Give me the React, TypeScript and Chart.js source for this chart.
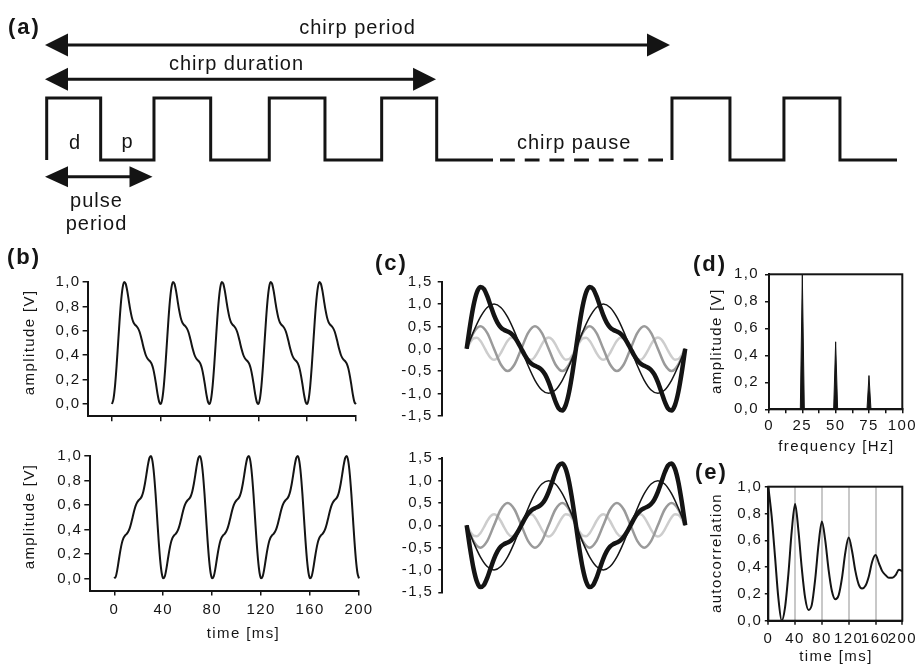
import React, { useEffect, useRef } from 'react';
import { Chart, registerables } from 'chart.js';

Chart.register(...registerables);

// ------------------------------------------------------------------ data
// (a) schematic square-wave chirp, x in pulse half-period units, y: 0 low / 1 high
const aChirpX = [0, 0, 0.969, 0.969, 1.926, 1.926, 2.944, 2.944, 3.996, 3.996, 4.996, 4.996, 6.014, 6.014, 7.002, 7.002, 8.013];
const aChirpY = [0, 1, 1, 0, 0, 1, 1, 0, 0, 1, 1, 0, 0, 1, 1, 0, 0];
const aPauseX = [8.139, 11.065];
const aPauseY = [0, 0];
const aNextX = [11.226, 11.226, 12.267, 12.267, 13.236, 13.236, 14.242, 14.242, 15.266];
const aNextY = [0, 1, 1, 0, 0, 1, 1, 0, 0];
const arrowFrom = [-0.03, -0.03, -0.03];
const arrowTo = [11.19, 6.99, 1.9];
const arrowLevel = [1.855, 1.302, -0.269];

// (b) stimulus waveforms, time in ms
const bTime = [
  0, 1.25, 2.5, 3.75, 5, 6.25, 7.5, 8.75, 10, 11.25, 12.5, 13.75, 15, 16.25, 17.5, 18.75, 20, 21.25, 22.5, 23.75, 25, 26.25, 27.5, 28.75, 30, 31.25, 32.5, 33.75, 35, 36.25, 37.5, 38.75, 40,
  41.25, 42.5, 43.75, 45, 46.25, 47.5, 48.75, 50, 51.25, 52.5, 53.75, 55, 56.25, 57.5, 58.75, 60, 61.25, 62.5, 63.75, 65, 66.25, 67.5, 68.75, 70, 71.25, 72.5, 73.75, 75, 76.25, 77.5, 78.75, 80,
  81.25, 82.5, 83.75, 85, 86.25, 87.5, 88.75, 90, 91.25, 92.5, 93.75, 95, 96.25, 97.5, 98.75, 100, 101.25, 102.5, 103.75, 105, 106.25, 107.5, 108.75, 110, 111.25, 112.5, 113.75, 115, 116.25, 117.5, 118.75, 120,
  121.25, 122.5, 123.75, 125, 126.25, 127.5, 128.75, 130, 131.25, 132.5, 133.75, 135, 136.25, 137.5, 138.75, 140, 141.25, 142.5, 143.75, 145, 146.25, 147.5, 148.75, 150, 151.25, 152.5, 153.75, 155, 156.25, 157.5, 158.75, 160,
  161.25, 162.5, 163.75, 165, 166.25, 167.5, 168.75, 170, 171.25, 172.5, 173.75, 175, 176.25, 177.5, 178.75, 180, 181.25, 182.5, 183.75, 185, 186.25, 187.5, 188.75, 190, 191.25, 192.5, 193.75, 195, 196.25, 197.5, 198.75, 200,
];
const bTopAmp = [
  0,
  0.044, 0.151, 0.31, 0.5, 0.69, 0.849, 0.956, 1, 0.985, 0.927, 0.848, 0.771, 0.71, 0.671, 0.651, 0.639, 0.622, 0.594, 0.552, 0.5, 0.448, 0.406, 0.378, 0.361, 0.349, 0.329, 0.29, 0.229, 0.152, 0.073, 0.015, 0,
  0.044, 0.151, 0.31, 0.5, 0.69, 0.849, 0.956, 1, 0.985, 0.927, 0.848, 0.771, 0.71, 0.671, 0.651, 0.639, 0.622, 0.594, 0.552, 0.5, 0.448, 0.406, 0.378, 0.361, 0.349, 0.329, 0.29, 0.229, 0.152, 0.073, 0.015, 0,
  0.044, 0.151, 0.31, 0.5, 0.69, 0.849, 0.956, 1, 0.985, 0.927, 0.848, 0.771, 0.71, 0.671, 0.651, 0.639, 0.622, 0.594, 0.552, 0.5, 0.448, 0.406, 0.378, 0.361, 0.349, 0.329, 0.29, 0.229, 0.152, 0.073, 0.015, 0,
  0.044, 0.151, 0.31, 0.5, 0.69, 0.849, 0.956, 1, 0.985, 0.927, 0.848, 0.771, 0.71, 0.671, 0.651, 0.639, 0.622, 0.594, 0.552, 0.5, 0.448, 0.406, 0.378, 0.361, 0.349, 0.329, 0.29, 0.229, 0.152, 0.073, 0.015, 0,
  0.044, 0.151, 0.31, 0.5, 0.69, 0.849, 0.956, 1, 0.985, 0.927, 0.848, 0.771, 0.71, 0.671, 0.651, 0.639, 0.622, 0.594, 0.552, 0.5, 0.448, 0.406, 0.378, 0.361, 0.349, 0.329, 0.29, 0.229, 0.152, 0.073, 0.015, 0,
];
const bBottomAmp = [
  0,
  0.015, 0.073, 0.152, 0.229, 0.29, 0.329, 0.349, 0.361, 0.378, 0.406, 0.448, 0.5, 0.552, 0.594, 0.622, 0.639, 0.651, 0.671, 0.71, 0.771, 0.848, 0.927, 0.985, 1, 0.956, 0.849, 0.69, 0.5, 0.31, 0.151, 0.044, 0,
  0.015, 0.073, 0.152, 0.229, 0.29, 0.329, 0.349, 0.361, 0.378, 0.406, 0.448, 0.5, 0.552, 0.594, 0.622, 0.639, 0.651, 0.671, 0.71, 0.771, 0.848, 0.927, 0.985, 1, 0.956, 0.849, 0.69, 0.5, 0.31, 0.151, 0.044, 0,
  0.015, 0.073, 0.152, 0.229, 0.29, 0.329, 0.349, 0.361, 0.378, 0.406, 0.448, 0.5, 0.552, 0.594, 0.622, 0.639, 0.651, 0.671, 0.71, 0.771, 0.848, 0.927, 0.985, 1, 0.956, 0.849, 0.69, 0.5, 0.31, 0.151, 0.044, 0,
  0.015, 0.073, 0.152, 0.229, 0.29, 0.329, 0.349, 0.361, 0.378, 0.406, 0.448, 0.5, 0.552, 0.594, 0.622, 0.639, 0.651, 0.671, 0.71, 0.771, 0.848, 0.927, 0.985, 1, 0.956, 0.849, 0.69, 0.5, 0.31, 0.151, 0.044, 0,
  0.015, 0.073, 0.152, 0.229, 0.29, 0.329, 0.349, 0.361, 0.378, 0.406, 0.448, 0.5, 0.552, 0.594, 0.622, 0.639, 0.651, 0.671, 0.71, 0.771, 0.848, 0.927, 0.985, 1, 0.956, 0.849, 0.69, 0.5, 0.31, 0.151, 0.044, 0,
];

// (c) harmonic components, time in ms
const cTimeCoarse = [0, 2.5, 5, 7.5, 10, 12.5, 15, 17.5, 20, 22.5, 25, 27.5, 30, 32.5, 35, 37.5, 40, 42.5, 45, 47.5, 50, 52.5, 55, 57.5, 60, 62.5, 65, 67.5, 70, 72.5, 75, 77.5, 80];
const cTimeFine = [
  0, 1.25, 2.5, 3.75, 5, 6.25, 7.5, 8.75, 10, 11.25, 12.5, 13.75, 15, 16.25, 17.5, 18.75, 20, 21.25, 22.5, 23.75, 25, 26.25, 27.5, 28.75, 30, 31.25, 32.5, 33.75, 35, 36.25, 37.5, 38.75, 40,
  41.25, 42.5, 43.75, 45, 46.25, 47.5, 48.75, 50, 51.25, 52.5, 53.75, 55, 56.25, 57.5, 58.75, 60, 61.25, 62.5, 63.75, 65, 66.25, 67.5, 68.75, 70, 71.25, 72.5, 73.75, 75, 76.25, 77.5, 78.75, 80,
];
const cTopFund = [0, 0.383, 0.707, 0.924, 1, 0.924, 0.707, 0.383, 0, -0.383, -0.707, -0.924, -1, -0.924, -0.707, -0.383, 0, 0.383, 0.707, 0.924, 1, 0.924, 0.707, 0.383, 0, -0.383, -0.707, -0.924, -1, -0.924, -0.707, -0.383, 0];
const cTopSecond = [0, 0.354, 0.5, 0.354, 0, -0.354, -0.5, -0.354, 0, 0.354, 0.5, 0.354, 0, -0.354, -0.5, -0.354, 0, 0.354, 0.5, 0.354, 0, -0.354, -0.5, -0.354, 0, 0.354, 0.5, 0.354, 0, -0.354, -0.5, -0.354, 0];
const cTopThird = [
  0, 0.139, 0.231, 0.245, 0.177, 0.049, -0.096, -0.208, -0.25, -0.208, -0.096, 0.049, 0.177, 0.245, 0.231, 0.139, 0, -0.139, -0.231, -0.245, -0.177, -0.049, 0.096, 0.208, 0.25, 0.208, 0.096, -0.049, -0.177, -0.245, -0.231, -0.139, 0,
  0.139, 0.231, 0.245, 0.177, 0.049, -0.096, -0.208, -0.25, -0.208, -0.096, 0.049, 0.177, 0.245, 0.231, 0.139, 0, -0.139, -0.231, -0.245, -0.177, -0.049, 0.096, 0.208, 0.25, 0.208, 0.096, -0.049, -0.177, -0.245, -0.231, -0.139, 0,
];
const cTopSum = [
  0, 0.525, 0.967, 1.263, 1.384, 1.342, 1.182, 0.964, 0.75, 0.582, 0.475, 0.418, 0.384, 0.339, 0.26, 0.143, 0, -0.143, -0.26, -0.339, -0.384, -0.418, -0.475, -0.582, -0.75, -0.964, -1.182, -1.342, -1.384, -1.263, -0.967, -0.525, 0,
  0.525, 0.967, 1.263, 1.384, 1.342, 1.182, 0.964, 0.75, 0.582, 0.475, 0.418, 0.384, 0.339, 0.26, 0.143, 0, -0.143, -0.26, -0.339, -0.384, -0.418, -0.475, -0.582, -0.75, -0.964, -1.182, -1.342, -1.384, -1.263, -0.967, -0.525, 0,
];
const cBottomFund = [0, -0.383, -0.707, -0.924, -1, -0.924, -0.707, -0.383, 0, 0.383, 0.707, 0.924, 1, 0.924, 0.707, 0.383, 0, -0.383, -0.707, -0.924, -1, -0.924, -0.707, -0.383, 0, 0.383, 0.707, 0.924, 1, 0.924, 0.707, 0.383, 0];
const cBottomSecond = [0, -0.354, -0.5, -0.354, 0, 0.354, 0.5, 0.354, 0, -0.354, -0.5, -0.354, 0, 0.354, 0.5, 0.354, 0, -0.354, -0.5, -0.354, 0, 0.354, 0.5, 0.354, 0, -0.354, -0.5, -0.354, 0, 0.354, 0.5, 0.354, 0];
const cBottomThird = [
  0, -0.139, -0.231, -0.245, -0.177, -0.049, 0.096, 0.208, 0.25, 0.208, 0.096, -0.049, -0.177, -0.245, -0.231, -0.139, 0, 0.139, 0.231, 0.245, 0.177, 0.049, -0.096, -0.208, -0.25, -0.208, -0.096, 0.049, 0.177, 0.245, 0.231, 0.139, 0,
  -0.139, -0.231, -0.245, -0.177, -0.049, 0.096, 0.208, 0.25, 0.208, 0.096, -0.049, -0.177, -0.245, -0.231, -0.139, 0, 0.139, 0.231, 0.245, 0.177, 0.049, -0.096, -0.208, -0.25, -0.208, -0.096, 0.049, 0.177, 0.245, 0.231, 0.139, 0,
];
const cBottomSum = [
  0, -0.525, -0.967, -1.263, -1.384, -1.342, -1.182, -0.964, -0.75, -0.582, -0.475, -0.418, -0.384, -0.339, -0.26, -0.143, 0, 0.143, 0.26, 0.339, 0.384, 0.418, 0.475, 0.582, 0.75, 0.964, 1.182, 1.342, 1.384, 1.263, 0.967, 0.525, 0,
  -0.525, -0.967, -1.263, -1.384, -1.342, -1.182, -0.964, -0.75, -0.582, -0.475, -0.418, -0.384, -0.339, -0.26, -0.143, 0, 0.143, 0.26, 0.339, 0.384, 0.418, 0.475, 0.582, 0.75, 0.964, 1.182, 1.342, 1.384, 1.263, 0.967, 0.525, 0,
];

// (d) amplitude spectrum
const dFreq = [0, 23.5, 25, 26.5, 48.5, 50, 51.5, 73.5, 75, 76.5, 100];
const dAmp = [0, 0, 1, 0, 0, 0.5, 0, 0, 0.25, 0, 0];

// (e) autocorrelation
const eLag = [0, 5, 10, 15, 20, 25, 30, 35, 40, 45, 50, 55, 60, 65, 70, 75, 80, 85, 90, 95, 100, 105, 110, 115, 120, 125, 130, 135, 140, 145, 150, 155, 160, 165, 170, 175, 180, 185, 190, 195, 200];
const eCorr = [1, 0.78, 0.48, 0.17, 0, 0.1, 0.35, 0.67, 0.87, 0.67, 0.39, 0.17, 0.08, 0.12, 0.31, 0.57, 0.74, 0.6, 0.38, 0.22, 0.16, 0.19, 0.32, 0.51, 0.62, 0.52, 0.37, 0.27, 0.24, 0.26, 0.33, 0.44, 0.49, 0.43, 0.37, 0.34, 0.32, 0.32, 0.34, 0.38, 0.37];

// tick values
const ampTicks = [0, 0.2, 0.4, 0.6, 0.8, 1];
const timeTicks = [0, 40, 80, 120, 160, 200];
const compTicks = [-1.5, -1, -0.5, 0, 0.5, 1, 1.5];
const freqTicks = [0, 12.5, 25, 37.5, 50, 62.5, 75, 87.5, 100];
const lagGrid = [40, 80, 120, 160];

// ------------------------------------------------------------------ style
const FONT = "'Liberation Sans', Arial, Helvetica, sans-serif";
const INK = '#141414';
const TXT = '#151515';
const LS = 1.4;
const FS = 15;

const comma = (v: number) => v.toFixed(1).replace('.', ',');
const pts = (xs: number[], ys: number[]) => xs.map((x, i) => ({ x, y: ys[i] }));

const setLS = (ctx: any, px: number) => {
  if (ctx && 'letterSpacing' in ctx) ctx.letterSpacing = `${px}px`;
};

function makeDeco(o: any) {
  return {
    id: 'deco',
    beforeUpdate(chart: any) { setLS(chart.ctx, LS); },
    beforeDraw(chart: any) { setLS(chart.ctx, LS); },
    afterDraw(chart: any) {
      const ctx = chart.ctx;
      const xs = chart.scales.x;
      const ys = chart.scales.y;
      const area = chart.chartArea;
      ctx.save();
      ctx.fillStyle = TXT;
      ctx.strokeStyle = INK;
      if (o.frame) {
        ctx.lineWidth = 2;
        ctx.strokeRect(area.left, area.top, area.right - area.left, area.bottom - area.top);
      }
      if (o.arrows) {
        ctx.lineWidth = 3;
        ctx.fillStyle = INK;
        for (let i = 0; i < arrowFrom.length; i++) {
          const y = ys.getPixelForValue(arrowLevel[i]);
          const x0 = xs.getPixelForValue(arrowFrom[i]);
          const x1 = xs.getPixelForValue(arrowTo[i]);
          const hl = 23;
          const hh = i === 2 ? 10.5 : 11.5;
          ctx.beginPath();
          ctx.moveTo(x0 + hl - 1, y);
          ctx.lineTo(x1 - hl + 1, y);
          ctx.stroke();
          ctx.beginPath();
          ctx.moveTo(x0, y); ctx.lineTo(x0 + hl, y - hh); ctx.lineTo(x0 + hl, y + hh); ctx.closePath(); ctx.fill();
          ctx.beginPath();
          ctx.moveTo(x1, y); ctx.lineTo(x1 - hl, y - hh); ctx.lineTo(x1 - hl, y + hh); ctx.closePath(); ctx.fill();
        }
        ctx.fillStyle = TXT;
      }
      for (const t of o.labels || []) {
        const ls = t.ls ?? LS;
        setLS(ctx, ls);
        ctx.font = `${t.bold ? 'bold ' : ''}${t.size ?? FS}px ${FONT}`;
        ctx.textAlign = t.align ?? 'left';
        ctx.textBaseline = 'alphabetic';
        const dx = (t.align === 'center') ? ls / 2 : 0;
        ctx.fillText(t.text, t.x + dx, t.y);
      }
      setLS(ctx, LS);
      ctx.font = `${FS}px ${FONT}`;
      ctx.textAlign = 'center';
      ctx.textBaseline = 'middle';
      if (o.yTitle) {
        const t = o.yTitle;
        const yc = (ys.getPixelForValue(t.v0) + ys.getPixelForValue(t.v1)) / 2;
        ctx.save();
        ctx.translate(t.x, yc - LS / 2);
        ctx.rotate(-Math.PI / 2);
        ctx.fillText(t.text, 0, 0);
        ctx.restore();
      }
      if (o.xTitle) {
        const t = o.xTitle;
        ctx.fillText(t.text, xs.getPixelForValue(t.v) + LS / 2, t.y);
      }
      ctx.restore();
    },
  };
}

const tickFont = { family: FONT, size: FS };

function yAxis(o: { min: number; max: number; ticks: number[]; width: number; pad: number; tl: number }) {
  return {
    type: 'linear', position: 'left', min: o.min, max: o.max,
    afterBuildTicks: (s: any) => { s.ticks = o.ticks.map((v) => ({ value: v })); },
    afterFit: (s: any) => { s.width = o.width; s.paddingTop = 0; s.paddingBottom = 0; s.paddingLeft = 0; s.paddingRight = 0; },
    ticks: { callback: (v: any) => comma(Number(v)), color: TXT, font: tickFont, padding: o.pad },
    grid: { display: true, drawOnChartArea: false, drawTicks: true, tickLength: o.tl, tickWidth: 1.5, lineWidth: 1.5, color: INK },
    border: { display: true, color: INK, width: 2 },
  };
}

function xAxis(o: { min: number; max: number; ticks: number[]; height: number; pad: number; tl: number; label: (v: number) => string; grid?: any }) {
  return {
    type: 'linear', position: 'bottom', min: o.min, max: o.max,
    afterBuildTicks: (s: any) => { s.ticks = o.ticks.map((v) => ({ value: v })); },
    afterFit: (s: any) => { s.height = o.height; s.paddingLeft = 0; s.paddingRight = 0; s.paddingTop = 0; s.paddingBottom = 0; },
    ticks: { callback: (v: any) => o.label(Number(v)), color: TXT, font: tickFont, padding: o.pad, maxRotation: 0, minRotation: 0, autoSkip: false },
    grid: o.grid ?? { display: true, drawOnChartArea: false, drawTicks: true, tickLength: o.tl, tickWidth: 1.5, lineWidth: 1.5, color: INK },
    border: { display: true, color: INK, width: 2 },
  };
}

function line(data: any[], color: string, width: number, extra: any = {}) {
  return {
    data, showLine: true, borderColor: color, backgroundColor: color, borderWidth: width,
    pointRadius: 0, pointHoverRadius: 0, pointHitRadius: 0, clip: false, fill: false, tension: 0, ...extra,
  };
}

function opts(padding: any, scales: any) {
  return {
    responsive: false, animation: false, devicePixelRatio: 1, events: [],
    layout: { padding, autoPadding: false },
    plugins: { legend: { display: false }, tooltip: { enabled: false } },
    scales,
  };
}

const smooth = { cubicInterpolationMode: 'monotone' };

type Panel = { left: number; top: number; w: number; h: number; build: () => any };

const PANELS: Panel[] = [
  {
    left: 0, top: 0, w: 919, h: 240,
    build: () => ({
      type: 'scatter',
      data: {
        datasets: [
          line(pts(aChirpX, aChirpY), INK, 3, { borderJoinStyle: 'miter', borderCapStyle: 'butt' }),
          line(pts(aPauseX, aPauseY), INK, 3, { borderDash: [14.8, 9.9], borderCapStyle: 'butt' }),
          line(pts(aNextX, aNextY), INK, 3, { borderJoinStyle: 'miter', borderCapStyle: 'butt' }),
        ],
      },
      options: opts(0, {
        x: { type: 'linear', display: false, min: -0.8384, max: 15.661 },
        y: { type: 'linear', display: false, min: -1.2903, max: 2.5806 },
      }),
      plugins: [makeDeco({
        arrows: true,
        labels: [
          { text: '(a)', x: 8, y: 34, size: 22, bold: true, ls: 2 },
          { text: 'chirp period', x: 357, y: 34.3, size: 20, ls: 1, align: 'center' },
          { text: 'chirp duration', x: 236, y: 70, size: 20, ls: 1, align: 'center' },
          { text: 'd', x: 74.5, y: 149, size: 20, ls: 1, align: 'center' },
          { text: 'p', x: 127, y: 148, size: 20, ls: 1, align: 'center' },
          { text: 'chirp pause', x: 573.6, y: 149, size: 20, ls: 1, align: 'center' },
          { text: 'pulse', x: 96, y: 206.5, size: 20, ls: 1, align: 'center' },
          { text: 'period', x: 96, y: 229.5, size: 20, ls: 1, align: 'center' },
        ],
      })],
    }),
  },
  {
    left: 0, top: 240, w: 390, h: 200,
    build: () => ({
      type: 'scatter',
      data: { datasets: [line(pts(bTime, bTopAmp), INK, 2, smooth)] },
      options: opts({ top: 42, right: 34, left: 0, bottom: 0 }, {
        x: xAxis({ min: -20, max: 200, ticks: timeTicks, height: 23.8, pad: 4, tl: 5, label: () => '' }),
        y: yAxis({ min: -0.1, max: 1, ticks: ampTicks, width: 87.6, pad: 2, tl: 5 }),
      }),
      plugins: [makeDeco({
        labels: [{ text: '(b)', x: 7, y: 23.5, size: 22, bold: true, ls: 2 }],
        yTitle: { text: 'amplitude [V]', x: 30, v0: 0, v1: 1 },
      })],
    }),
  },
  {
    left: 0, top: 440, w: 390, h: 231,
    build: () => ({
      type: 'scatter',
      data: { datasets: [line(pts(bTime, bBottomAmp), INK, 2, smooth)] },
      options: opts({ top: 16, right: 31, left: 0, bottom: 0 }, {
        x: xAxis({ min: -20, max: 200, ticks: timeTicks, height: 80.4, pad: 5, tl: 5, label: (v) => String(v) }),
        y: yAxis({ min: -0.1, max: 1, ticks: ampTicks, width: 89.8, pad: 2, tl: 5.5 }),
      }),
      plugins: [makeDeco({
        yTitle: { text: 'amplitude [V]', x: 30, v0: 0, v1: 1 },
        xTitle: { text: 'time [ms]', v: 105, y: 193.5 },
      })],
    }),
  },
  {
    left: 370, top: 240, w: 320, h: 200,
    build: () => ({
      type: 'scatter',
      data: {
        datasets: [
          line(pts(cTimeFine, cTopSum), INK, 4.5, smooth),
          line(pts(cTimeCoarse, cTopFund), INK, 1.5, smooth),
          line(pts(cTimeCoarse, cTopSecond), '#9a9a9a', 2.5, smooth),
          line(pts(cTimeFine, cTopThird), '#cdcdcd', 2.5, smooth),
        ],
      },
      options: opts({ top: 41.7, right: 4.8, left: 0, bottom: 24.3 }, {
        x: { type: 'linear', display: false, min: -9.15, max: 80 },
        y: yAxis({ min: -1.5, max: 1.5, ticks: compTicks, width: 71.7, pad: 5, tl: 4 }),
      }),
      plugins: [makeDeco({
        labels: [{ text: '(c)', x: 5, y: 29.5, size: 22, bold: true, ls: 2 }],
      })],
    }),
  },
  {
    left: 370, top: 440, w: 320, h: 231,
    build: () => ({
      type: 'scatter',
      data: {
        datasets: [
          line(pts(cTimeFine, cBottomSum), INK, 4.5, smooth),
          line(pts(cTimeCoarse, cBottomFund), INK, 1.5, smooth),
          line(pts(cTimeCoarse, cBottomSecond), '#9a9a9a', 2.5, smooth),
          line(pts(cTimeFine, cBottomThird), '#cdcdcd', 2.5, smooth),
        ],
      },
      options: opts({ top: 18.3, right: 4.8, left: 0, bottom: 78.7 }, {
        x: { type: 'linear', display: false, min: -8.93, max: 80 },
        y: yAxis({ min: -1.5, max: 1.5, ticks: compTicks, width: 72.3, pad: 5, tl: 4 }),
      }),
      plugins: [makeDeco({})],
    }),
  },
  {
    left: 690, top: 240, w: 229, h: 220,
    build: () => ({
      type: 'scatter',
      data: { datasets: [line(pts(dFreq, dAmp), INK, 1, { fill: 'origin' })] },
      options: opts({ top: 34.3, right: 16.7, left: 0, bottom: 0 }, {
        x: xAxis({ min: 0, max: 100, ticks: freqTicks, height: 50.7, pad: 3.5, tl: 4, label: (v) => (v % 25 === 0 ? String(v) : '') }),
        y: yAxis({ min: 0, max: 1, ticks: ampTicks, width: 79, pad: 6, tl: 4 }),
      }),
      plugins: [makeDeco({
        frame: true,
        labels: [{ text: '(d)', x: 3, y: 30.5, size: 22, bold: true, ls: 2 }],
        yTitle: { text: 'amplitude [V]', x: 27, v0: 0, v1: 1 },
        xTitle: { text: 'frequency [Hz]', v: 50, y: 207 },
      })],
    }),
  },
  {
    left: 690, top: 460, w: 229, h: 211,
    build: () => ({
      type: 'scatter',
      data: { datasets: [line(pts(eLag, eCorr), INK, 2, smooth)] },
      options: opts({ top: 26.7, right: 16.7, left: 0, bottom: 0 }, {
        x: xAxis({
          min: 0, max: 200, ticks: timeTicks, height: 50.3, pad: 5.5, tl: 4, label: (v) => String(v),
          grid: {
            display: true, drawOnChartArea: true, drawTicks: true, tickLength: 4, tickWidth: 1.5, tickColor: INK, lineWidth: 2,
            color: (c: any) => (c.tick && lagGrid.includes(c.tick.value) ? '#c8c8c8' : 'rgba(0,0,0,0)'),
          },
        }),
        y: yAxis({ min: 0, max: 1, ticks: ampTicks, width: 78.3, pad: 2.5, tl: 3.5 }),
      }),
      plugins: [makeDeco({
        frame: true,
        labels: [{ text: '(e)', x: 5, y: 18.5, size: 22, bold: true, ls: 2 }],
        yTitle: { text: 'autocorrelation', x: 27, v0: 0, v1: 1 },
        xTitle: { text: 'time [ms]', v: 100, y: 197 },
      })],
    }),
  },
];

export default function App() {
  const wrap = useRef<HTMLDivElement>(null);
  useEffect(() => {
    const canvases = wrap.current ? Array.from(wrap.current.querySelectorAll('canvas')) : [];
    const charts = canvases.map((cv, i) => new Chart(cv as HTMLCanvasElement, PANELS[i].build()));
    return () => charts.forEach((c) => c.destroy());
  }, []);
  return (
    <div ref={wrap} style={{ position: 'absolute', left: 0, top: 0, width: 919, height: 671, background: '#fff', overflow: 'hidden' }}>
      {PANELS.map((p, i) => (
        <canvas
          key={i}
          width={p.w}
          height={p.h}
          style={{ position: 'absolute', left: p.left, top: p.top, width: p.w, height: p.h }}
        />
      ))}
    </div>
  );
}
